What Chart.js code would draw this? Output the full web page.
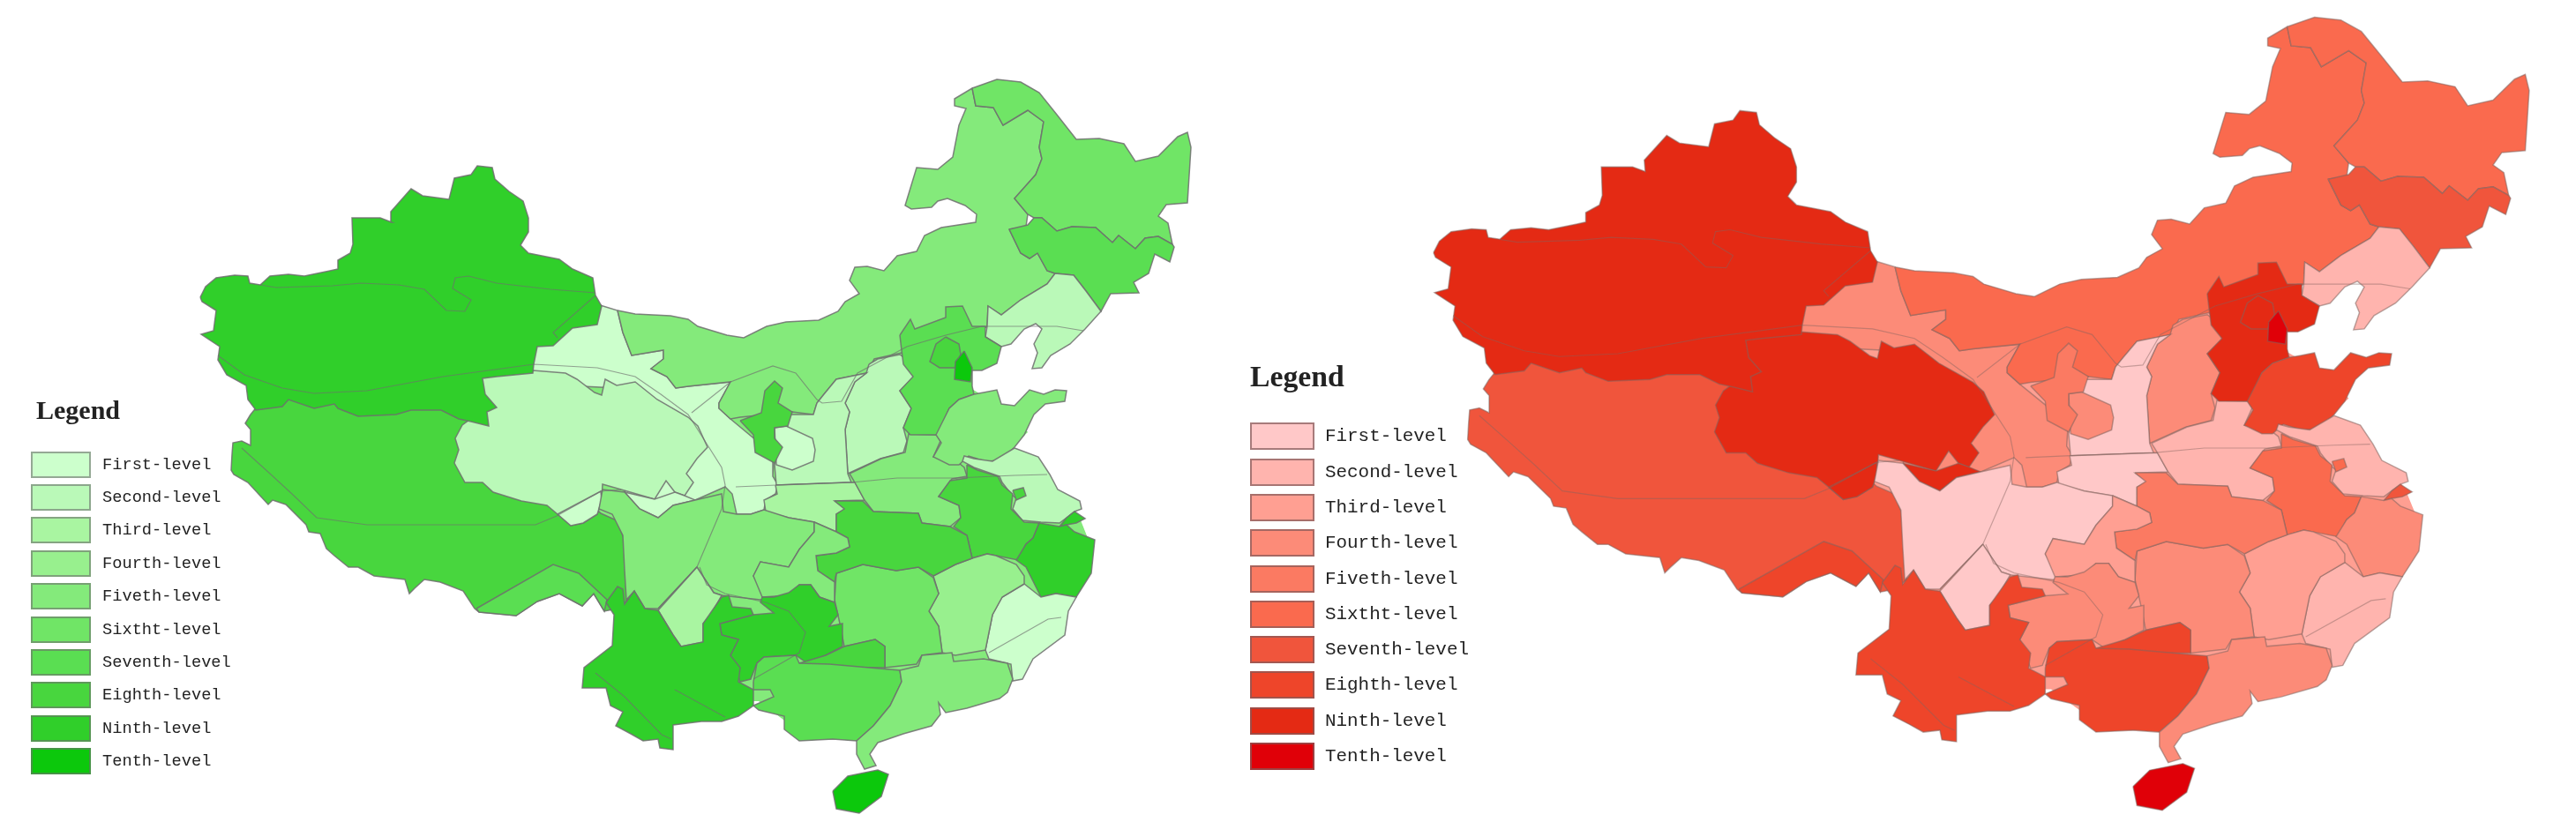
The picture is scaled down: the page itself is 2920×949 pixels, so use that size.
<!DOCTYPE html>
<html>
<head>
<meta charset="utf-8">
<title>Legend maps</title>
<script src="https://cdn.jsdelivr.net/npm/chart.js@4"></script>
<style>
  html, body { margin: 0; padding: 0; background: #fff; width: 2920px; height: 949px; overflow: hidden; }
  canvas { position: absolute; top: 0; filter: blur(0.6px); }
  #mapaVerde { left: 0; }
  #mapaRojo { left: 1380px; }
  .leyenda { position: absolute; color: #222; }
  .leyenda h4 { margin: 0; font-family: "Liberation Serif", serif; font-weight: bold; line-height: 1; }
  .leyenda ul { list-style: none; margin: 0; padding: 0; font-family: "Liberation Mono", monospace; }
  .leyenda li { display: flex; align-items: center; }
  .leyenda i { display: block; box-sizing: border-box; border: 2px solid; }
  #leyendaVerde { left: 35px; top: 450px; }
  #leyendaVerde h4 { font-size: 30px; margin-left: 6px; margin-bottom: 28px; }
  #leyendaVerde li { height: 37.4px; font-size: 18.7px; }
  #leyendaVerde i { width: 68px; height: 30px; margin-right: 13px; }
  #leyendaRojo { left: 1417px; top: 410px; }
  #leyendaRojo h4 { font-size: 33.7px; margin-bottom: 31px; }
  #leyendaRojo li { height: 40.3px; font-size: 20.9px; }
  #leyendaRojo i { width: 73px; height: 31px; margin-right: 12px; }
</style>
</head>
<body>
<canvas id="mapaVerde" width="1380" height="949"></canvas>
<canvas id="mapaRojo" width="1540" height="949"></canvas>
<div class="leyenda" id="leyendaVerde"><h4>Legend</h4><ul></ul></div>
<div class="leyenda" id="leyendaRojo"><h4>Legend</h4><ul></ul></div>
<script>
// Niveles de la leyenda
const levelLabels = ["First-level", "Second-level", "Third-level", "Fourth-level", "Fiveth-level", "Sixtht-level", "Seventh-level", "Eighth-level", "Ninth-level", "Tenth-level"];
const greenColors = ["#ccffcc", "#baf9b8", "#a9f5a1", "#98f08e", "#84ea7b", "#70e566", "#5ade52", "#48d63e", "#30cf2a", "#0cc80c"];
const redColors = ["#ffc8c8", "#ffb4ae", "#ff9f92", "#fc8b78", "#fb7a62", "#fa6a4e", "#f0553c", "#ee452a", "#e42a14", "#e00008"];

// Contornos de las provincias (unidades del mapa)
const land = [[600,420],[700,380],[830,395],[960,365],[1020,380],[1100,390],[1100,440],[1150,470],[1165,490],[1135,518],[1175,522],[1195,555],[1218,578],[1225,590],[1235,615],[1230,650],[1200,715],[1165,745],[1140,780],[1060,800],[1000,830],[900,825],[860,795],[830,795],[780,810],[745,825],[720,810],[705,790],[685,770],[705,730],[705,670],[640,640],[550,600],[560,480]];
const gansu = [[677,345],[700,352],[706,377],[716,403],[752,397],[752,407],[738,418],[756,427],[766,440],[780,438],[828,433],[815,457],[815,463],[828,475],[858,500],[877,523],[876,540],[882,550],[879,560],[868,567],[866,578],[851,583],[835,583],[830,560],[822,552],[788,567],[763,573],[746,587],[725,577],[708,558],[740,500],[700,440],[600,435],[600,385]];
const xizang = [[284,470],[278,480],[284,487],[284,505],[274,500],[264,502],[263,515],[262,533],[265,538],[281,547],[304,572],[309,567],[324,572],[347,595],[350,603],[363,605],[370,622],[379,630],[395,643],[406,643],[424,653],[459,657],[464,673],[470,667],[481,657],[499,660],[525,670],[538,690],[543,694],[585,698],[609,682],[634,673],[660,687],[673,673],[685,693],[700,690],[712,680],[709,640],[707,610],[699,590],[681,582],[600,500],[500,450],[300,450]];
const xizangS = [[540,690],[627,640],[656,650],[688,680],[685,693],[673,673],[660,687],[634,673],[609,682],[585,698],[543,694]];
const qinghai = [[540,425],[604,420],[641,423],[654,430],[674,445],[682,448],[686,430],[699,437],[720,433],[745,453],[780,473],[791,483],[802,507],[790,520],[778,537],[786,547],[776,562],[765,558],[755,545],[742,566],[704,555],[683,549],[682,567],[677,583],[661,593],[647,596],[632,583],[620,573],[591,568],[559,558],[547,547],[527,547],[515,525],[520,510],[516,497],[524,482],[540,470]];
const qinghaiW = [[632,583],[681,557],[682,567],[677,583],[661,593],[647,596]];
const qinghaiE = [[708,558],[725,577],[746,587],[763,573],[788,567],[776,562],[765,558],[742,566]];
const xinjiang = [[227,337],[233,325],[245,315],[266,312],[281,313],[283,321],[295,323],[306,313],[327,311],[345,313],[374,307],[383,305],[383,295],[397,287],[400,277],[399,247],[431,247],[444,252],[443,240],[466,214],[479,222],[509,226],[515,202],[534,198],[541,188],[558,190],[561,203],[577,217],[593,228],[599,247],[599,263],[590,278],[599,287],[634,294],[649,305],[672,315],[675,335],[682,347],[677,368],[649,372],[627,392],[609,393],[605,413],[604,423],[563,427],[547,429],[550,447],[563,462],[552,467],[554,483],[534,478],[520,475],[500,465],[466,465],[449,470],[406,472],[383,463],[379,458],[356,463],[327,453],[320,461],[290,465],[281,453],[279,437],[257,425],[247,408],[249,393],[228,379],[242,375],[245,352],[229,342]];
const neimenggu = [[700,352],[720,356],[760,358],[780,362],[791,370],[824,380],[843,383],[869,370],[891,365],[928,363],[950,353],[958,342],[974,333],[963,318],[969,303],[983,302],[1002,307],[1017,290],[1039,285],[1048,267],[1067,258],[1106,252],[1107,243],[1094,233],[1074,225],[1063,228],[1056,235],[1033,237],[1026,233],[1039,190],[1063,192],[1080,178],[1087,142],[1095,123],[1082,120],[1082,112],[1102,100],[1106,120],[1126,122],[1137,142],[1165,125],[1183,138],[1178,167],[1181,180],[1174,198],[1150,225],[1165,243],[1163,257],[1144,260],[1157,287],[1167,293],[1176,287],[1187,307],[1196,310],[1187,322],[1157,340],[1135,357],[1120,347],[1119,370],[1090,390],[1050,420],[1022,400],[991,407],[983,423],[948,430],[934,447],[926,457],[922,470],[898,467],[839,473],[828,475],[815,463],[815,457],[828,433],[780,438],[766,440],[756,427],[738,418],[752,407],[752,397],[716,403],[706,377]];
const heilongjiang = [[1102,100],[1130,90],[1157,93],[1178,105],[1198,130],[1220,158],[1246,157],[1274,163],[1287,183],[1313,177],[1335,155],[1346,150],[1350,167],[1346,230],[1322,232],[1313,245],[1324,253],[1329,277],[1313,268],[1298,270],[1287,282],[1268,267],[1261,275],[1242,258],[1215,257],[1198,262],[1181,247],[1172,247],[1165,243],[1150,225],[1174,198],[1181,180],[1178,167],[1183,138],[1165,125],[1137,142],[1126,122],[1106,120]];
const jilin = [[1144,260],[1165,255],[1172,247],[1181,247],[1198,262],[1215,257],[1242,258],[1261,275],[1268,267],[1287,282],[1298,270],[1313,268],[1329,277],[1331,280],[1326,297],[1309,288],[1302,310],[1285,320],[1291,332],[1259,333],[1248,353],[1231,330],[1217,312],[1196,310],[1187,307],[1176,287],[1167,293],[1157,287]];
const liaoning = [[1196,310],[1217,312],[1231,330],[1248,353],[1230,373],[1213,390],[1191,403],[1181,417],[1170,418],[1176,400],[1172,390],[1181,373],[1174,367],[1161,373],[1146,390],[1135,393],[1117,382],[1119,370],[1120,347],[1135,357],[1157,340],[1187,322]];
const hebei = [[1020,380],[1032,362],[1037,373],[1072,360],[1072,348],[1091,347],[1102,370],[1117,370],[1117,382],[1135,393],[1130,412],[1113,420],[1102,420],[1102,438],[1104,447],[1087,453],[1076,463],[1063,493],[1032,493],[1024,485],[1033,463],[1020,443],[1035,427],[1024,413],[1022,397]];
const beijing = [[1072,382],[1087,390],[1089,402],[1082,417],[1065,417],[1054,410],[1061,390]];
const tianjin = [[1093,398],[1102,417],[1100,433],[1082,430],[1083,410]];
const shanxi = [[985,413],[995,407],[1020,402],[1035,413],[1035,428],[1020,443],[1033,463],[1024,485],[1028,500],[1024,513],[998,520],[961,537],[958,487],[963,467],[958,457],[969,433],[982,423]];
const shaanxiN = [[926,457],[934,447],[948,430],[982,423],[969,433],[958,457],[963,467],[958,487],[961,537],[965,547],[880,550],[878,527],[890,480],[895,470],[922,470]];
const shaanxiE = [[878,485],[891,483],[921,497],[924,510],[922,523],[898,533],[880,527]];
const ningxia = [[839,477],[863,468],[867,443],[878,432],[887,440],[882,457],[898,467],[893,483],[878,485],[878,497],[887,507],[884,513],[878,525],[856,513],[854,493]];
const shaanxiS = [[879,550],[961,547],[969,547],[980,567],[946,568],[959,577],[948,583],[948,603],[923,592],[894,587],[868,580],[866,567],[881,560]];
const henan = [[963,537],[969,547],[980,567],[990,580],[1041,582],[1045,593],[1077,597],[1089,587],[1087,573],[1064,563],[1079,543],[1096,540],[1093,530],[1083,522],[1058,518],[1066,500],[1062,493],[1030,492],[1026,513],[999,520]];
const shandong = [[1061,493],[1076,463],[1087,453],[1104,447],[1115,445],[1130,442],[1135,458],[1150,460],[1167,442],[1183,447],[1196,442],[1209,443],[1207,455],[1185,458],[1172,470],[1161,493],[1150,507],[1135,522],[1117,523],[1098,517],[1087,527],[1076,527],[1058,518],[1067,502]];
const jiangsu = [[1150,508],[1177,518],[1190,538],[1199,555],[1224,568],[1226,577],[1218,580],[1209,587],[1201,593],[1180,592],[1159,590],[1148,577],[1152,565],[1146,560],[1136,547],[1133,540],[1104,530],[1091,523],[1093,517],[1104,520],[1125,523]];
const anhui = [[1096,527],[1108,533],[1131,540],[1136,550],[1148,560],[1146,577],[1161,592],[1178,593],[1171,610],[1163,617],[1154,635],[1129,630],[1119,628],[1102,633],[1096,607],[1081,597],[1089,587],[1087,573],[1064,563],[1077,545],[1096,542]];
const anhuiEast = [[1148,556],[1160,553],[1163,562],[1152,567]];
const shanghai = [[1209,587],[1218,580],[1230,588],[1220,593],[1209,595],[1201,597]];
const zhejiang = [[1178,593],[1201,597],[1209,595],[1218,603],[1241,612],[1237,650],[1220,677],[1197,673],[1180,677],[1163,643],[1152,635],[1163,617],[1171,610]];
const fujian = [[1161,662],[1180,677],[1197,673],[1220,677],[1211,693],[1207,720],[1171,747],[1159,770],[1148,772],[1146,753],[1121,747],[1117,737],[1125,697],[1136,677]];
const jiangxi = [[1058,653],[1083,640],[1102,633],[1119,628],[1129,630],[1152,640],[1161,653],[1161,662],[1136,677],[1125,697],[1117,737],[1083,743],[1068,740],[1064,710],[1053,693],[1064,673]];
const hunan = [[948,650],[978,640],[1016,647],[1041,643],[1058,655],[1064,673],[1053,693],[1064,710],[1068,740],[1045,743],[1039,753],[1003,757],[1003,733],[992,725],[957,733],[952,707],[946,680]];
const hubei = [[946,568],[978,568],[990,580],[1041,582],[1045,593],[1077,597],[1096,607],[1102,633],[1083,640],[1058,653],[1041,643],[1016,647],[978,640],[948,650],[946,660],[927,647],[925,630],[948,627],[963,620],[961,610],[948,603],[948,583],[957,577]];
const chongqing = [[923,592],[948,603],[961,610],[963,620],[948,627],[925,630],[927,647],[946,660],[946,683],[929,677],[919,663],[906,663],[894,675],[864,677],[854,653],[862,637],[894,643],[906,623],[923,603]];
const sichuan = [[683,555],[708,558],[725,577],[746,587],[763,573],[788,567],[818,560],[820,580],[835,583],[851,583],[866,578],[894,587],[923,592],[923,603],[906,623],[894,643],[862,637],[854,653],[864,670],[879,675],[862,680],[835,677],[818,675],[809,672],[790,643],[746,690],[731,690],[719,670],[710,680],[708,647],[706,607],[694,583],[679,577]];
const sichuanS = [[790,643],[809,672],[818,675],[805,698],[797,707],[797,728],[772,733],[763,720],[746,692]];
const yunnan = [[687,683],[700,665],[706,668],[708,685],[719,670],[731,690],[746,692],[763,720],[772,733],[797,728],[797,707],[818,677],[826,675],[830,688],[851,690],[854,697],[816,707],[818,720],[837,725],[828,743],[839,757],[837,773],[854,782],[854,800],[837,812],[818,818],[795,818],[763,822],[763,850],[748,848],[746,838],[729,840],[715,832],[698,823],[706,807],[692,800],[687,780],[660,780],[662,757],[694,732],[696,697]];
const guizhou = [[864,677],[877,677],[894,672],[906,663],[919,663],[929,677],[946,683],[950,697],[940,710],[955,707],[955,733],[936,743],[915,752],[902,743],[866,745],[858,752],[851,770],[839,773],[828,743],[837,725],[818,720],[816,707],[854,697],[877,695],[862,683]];
const guangxiN = [[906,752],[936,743],[957,733],[992,725],[1003,733],[1003,757],[940,757]];
const guangxi = [[854,773],[858,752],[866,745],[902,743],[906,752],[940,753],[1020,760],[1022,773],[1009,800],[990,823],[971,840],[944,838],[906,840],[889,827],[889,812],[860,805],[854,800],[877,790],[873,782],[854,782]];
const guangdong = [[1020,760],[1041,755],[1045,743],[1079,740],[1081,750],[1115,747],[1142,752],[1148,770],[1142,785],[1133,792],[1096,803],[1072,808],[1064,797],[1066,810],[1056,823],[1024,832],[995,842],[986,855],[993,868],[980,872],[971,855],[971,840],[990,823],[1009,800],[1022,773]];
const hainan = [[944,897],[961,880],[995,873],[1007,878],[999,903],[974,922],[948,917]];

// Orden de dibujo: las ultimas quedan encima
const provinces = [land, gansu, xizang, xizangS, qinghai, qinghaiW, qinghaiE, xinjiang, neimenggu, heilongjiang, jilin, liaoning, shanxi, shaanxiN, shaanxiE, ningxia, shaanxiS, henan, hebei, beijing, tianjin, shandong, jiangsu, anhui, anhuiEast, shanghai, zhejiang, fujian, jiangxi, hunan, hubei, sichuan, sichuanS, chongqing, guizhou, yunnan, guangxiN, guangxi, guangdong, hainan];
// Nivel (1-10) de cada provincia en cada mapa, mismo orden que provinces
const greenLevels = [5, 1, 8, 7, 2, 1, 1, 9, 5, 6, 7, 2, 2, 2, 1, 8, 3, 5, 7, 8, 10, 5, 2, 8, 8, 9, 9, 1, 4, 6, 8, 5, 3, 5, 9, 9, 8, 7, 5, 10];
const redLevels = [3, 4, 7, 8, 9, 9, 9, 9, 6, 6, 7, 2, 4, 1, 4, 5, 1, 2, 9, 9, 10, 8, 2, 6, 6, 7, 4, 2, 3, 4, 5, 1, 1, 3, 4, 8, 8, 8, 4, 10];

// Lineas grises que cruzan las provincias
const riverA = [[295,323],[313,326],[377,324],[409,321],[452,323],[481,328],[506,352],[527,353],[534,340],[513,327],[516,315],[531,313],[563,321],[624,328],[675,332]];
const riverB = [[675,335],[627,377],[632,383]];
const riverC = [[247,403],[277,425],[320,440],[356,446],[416,443],[502,427],[605,413],[677,417],[720,427],[749,447],[780,470],[801,503],[818,530],[822,550],[818,577],[790,643],[746,690]];
const riverD = [[274,508],[306,537],[331,560],[359,587],[416,595],[607,595],[631,585],[681,557],[704,555]];
const riverE = [[834,552],[880,550],[965,547],[1017,542],[1083,542],[1150,539],[1187,538]];
const riverF = [[784,468],[828,433],[876,415],[902,423],[926,453],[932,457],[954,455],[972,423],[1028,393],[1072,380],[1113,370],[1198,370],[1228,375]];
const riverG = [[793,643],[801,663],[822,673],[868,683],[894,693],[913,717],[906,740],[889,750],[854,770]];
const riverH = [[675,763],[708,790],[750,833],[761,838]];
const riverI = [[765,782],[822,813]];
const riverJ = [[1121,740],[1188,702],[1203,700]];
const rivers = [riverA, riverB, riverC, riverD, riverE, riverF, riverG, riverH, riverI, riverJ];

function toPoints(coords) {
  return coords.map(([x, y]) => ({ x, y }));
}

// Dibuja un mapa con sus niveles y colores
function drawMap(canvasId, levels, colors, lineColor, lineWidth, riverColor, xRange, yRange) {
  const datasets = provinces.map((coords, i) => {
    const closed = coords.concat([coords[0]]);
    return {
      data: toPoints(closed),
      showLine: true,
      fill: "shape",
      backgroundColor: colors[levels[i] - 1],
      borderColor: lineColor,
      borderWidth: coords === land ? 0 : lineWidth,
      pointRadius: 0,
    };
  });
  rivers.forEach((coords) => {
    datasets.push({
      data: toPoints(coords),
      showLine: true,
      fill: false,
      borderColor: riverColor,
      borderWidth: 1.2,
      pointRadius: 0,
    });
  });

  // Chart.js pinta el primer dataset encima
  datasets.reverse();

  return new Chart(document.getElementById(canvasId), {
    type: "scatter",
    data: { datasets },
    options: {
      responsive: false,
      animation: false,
      devicePixelRatio: 1,
      layout: { padding: 0 },
      plugins: { legend: { display: false }, tooltip: { enabled: false } },
      scales: {
        x: { type: "linear", display: false, min: xRange[0], max: xRange[1] },
        y: { type: "linear", display: false, reverse: true, min: yRange[0], max: yRange[1] },
      },
    },
  });
}

// Leyenda de cada mapa
function fillLegend(id, colors, borderColors) {
  const list = document.querySelector(`#${id} ul`);
  levelLabels.forEach((label, i) => {
    const item = document.createElement("li");
    const box = document.createElement("i");
    box.style.background = colors[i];
    box.style.borderColor = borderColors;
    item.appendChild(box);
    item.appendChild(document.createTextNode(label));
    list.appendChild(item);
  });
}

drawMap("mapaVerde", greenLevels, greenColors, "rgba(110,110,110,0.85)", 1.5, "rgba(110,110,110,0.65)", [0, 1380], [0, 949]);
drawMap("mapaRojo", redLevels, redColors, "rgba(130,100,95,0.55)", 1.5, "rgba(130,100,95,0.45)", [5.5, 1398], [72, 950]);
fillLegend("leyendaVerde", greenColors, "rgba(110,110,110,0.6)");
fillLegend("leyendaRojo", redColors, "rgba(130,90,90,0.7)");
</script>
</body>
</html>
